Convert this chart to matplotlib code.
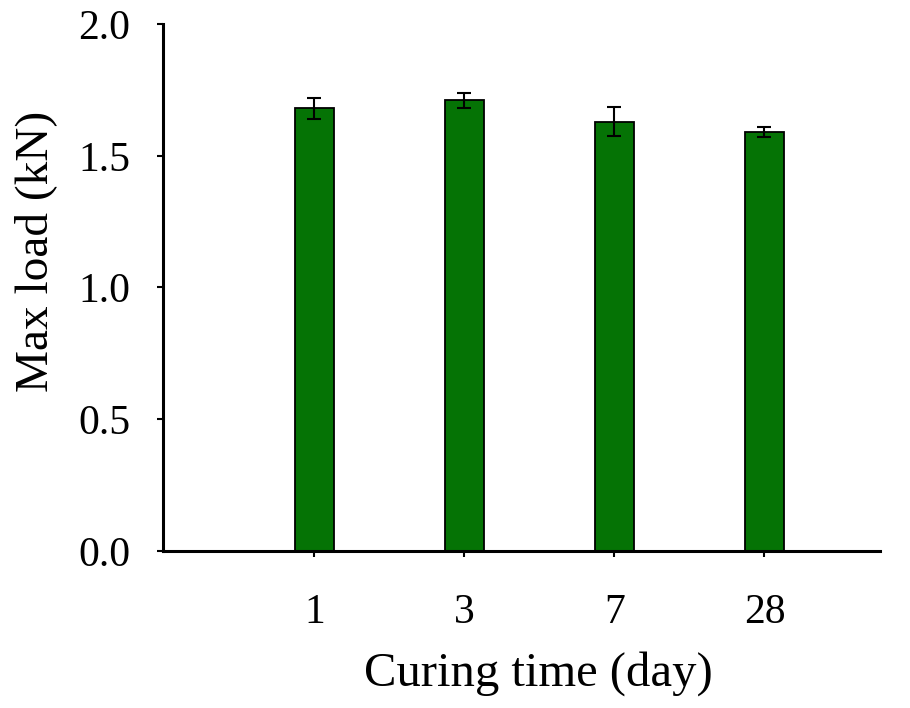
import matplotlib.pyplot as plt
import numpy as np

plt.rcParams['font.family'] = ['Liberation Serif', 'DejaVu Serif']

days = ['1', '3', '7', '28']
max_load = [1.68, 1.71, 1.63, 1.59]
load_err = [0.04, 0.03, 0.055, 0.02]

fig = plt.figure(figsize=(9.1, 7.08), dpi=100)
ax = fig.add_axes([0.179, 0.222, 0.788, 0.744])

x = np.arange(len(days))
ax.bar(x, max_load, width=0.26, color='#057305', edgecolor='black', linewidth=1.3,
       yerr=load_err, capsize=5, error_kw=dict(ecolor='black', elinewidth=1.5, capthick=1.5))

ax.set_xlim(-1.01, 3.77)
ax.set_ylim(0, 2.0)
ax.set_yticks([0.0, 0.5, 1.0, 1.5, 2.0])
ax.set_yticklabels(['0.0', '0.5', '1.0', '1.5', '2.0'])
ax.set_xticks(x)
ax.set_xticklabels(days)

ax.spines['top'].set_visible(False)
ax.spines['right'].set_visible(False)
ax.spines['left'].set_linewidth(2.2)
ax.spines['bottom'].set_linewidth(2.2)
ax.tick_params(axis='y', direction='out', length=4.5, width=1.5, labelsize=30, pad=19)
ax.tick_params(axis='x', direction='out', length=4.5, width=1.5, labelsize=30, pad=26)

ax.set_ylabel('Max load (kN)', fontsize=34)
ax.set_xlabel('Curing time (day)', fontsize=35)
ax.yaxis.set_label_coords(-0.148, 0.569)
ax.xaxis.set_label_coords(0.523, -0.19)

plt.savefig('out.png', dpi=100)
